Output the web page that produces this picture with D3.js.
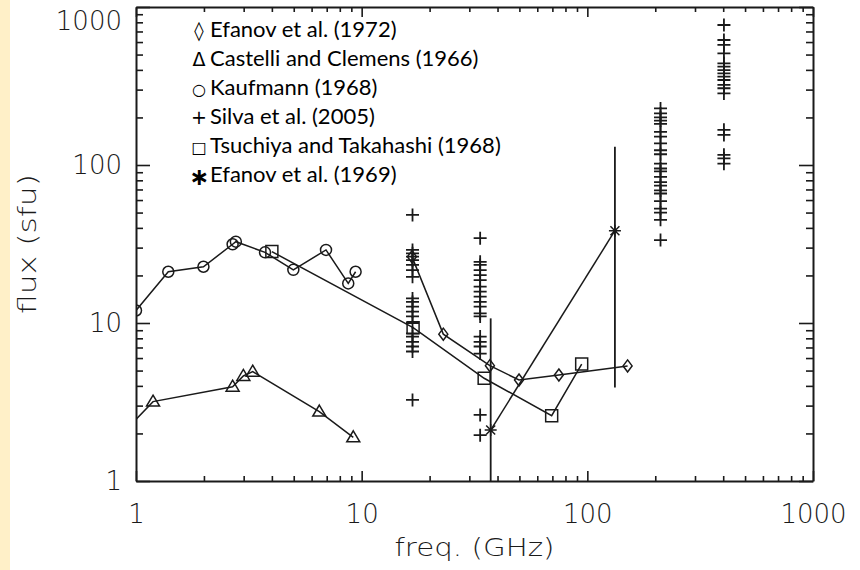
<!DOCTYPE html>
<meta charset="utf-8">
<script src="https://d3js.org/d3.v7.min.js"></script>
<style>
  body { margin: 0; background: #fff; }
</style>
<div id="my_dataviz"></div>
<script>

// ---- data (freq in GHz, flux in sfu) ----
var kaufFreq = [1.0, 1.39, 1.99, 2.68, 2.77, 3.73, 4.98, 6.95, 8.72, 9.4];
var kaufFlux = [12, 21.1, 22.7, 31.5, 32.7, 28.0, 21.7, 29, 17.8, 21.1];

var castFreq = [0.9, 1.19, 2.68, 2.99, 3.29, 6.49, 9.18];
var castFlux = [2.1, 3.18, 3.95, 4.62, 4.92, 2.75, 1.89];

var tsuFreq = [4.0, 16.9, 34.9, 69.5, 94.4];
var tsuFlux = [28.3, 9.34, 4.47, 2.59, 5.5];

var ef72Freq = [16.7, 23, 37, 49.8, 74.8, 150.8];
var ef72Flux = [26.3, 8.5, 5.37, 4.36, 4.69, 5.35];

var ef69Freq = [37.3, 132.5];
var ef69Flux = [2.10, 38.4];
var ef69Low  = [0.5, 3.9];
var ef69High = [10.7, 130.6];

var silvaFreq = [16.8, 33.5, 211, 403];
var silva17  = [48.3, 29, 27.6, 26.3, 25, 23.3, 21.6, 19.6, 14.3, 13.6, 12.7, 11.8, 11, 10, 8.6, 8.2, 7.6, 7.1, 6.6, 3.26];
var silva34  = [34.4, 24.4, 23.3, 21.6, 20.1, 18.7, 17, 15.8, 14.7, 13.6, 12.7, 11.5, 11, 8.2, 7.6, 7.1, 6.4, 2.62, 1.95];
var silva210 = [228, 212, 200, 191, 182, 162, 151, 137, 124, 117, 102, 95, 91, 84, 78, 74, 69, 66, 59, 53, 50, 45, 33.5];
var silva400 = [769, 618, 575, 509, 440, 419, 399, 380, 362, 345, 321, 306, 284, 167, 155, 116, 110, 102];

var legendLabels = [
  ["\u25CA", "Efanov et al. (1972)"],
  ["\u0394", "Castelli and Clemens (1966)"],
  ["\u25CB", "Kaufmann (1968)"],
  ["+", "Silva et al. (2005)"],
  ["\u25A1", "Tsuchiya and Takahashi (1968)"],
  ["\u2217", "Efanov et al. (1969)"]
];

var majorTicks = [1, 10, 100, 1000];

// ---- layout ----
var W = 860, H = 570;
var plot = {left: 136, right: 813, top: 7, bottom: 481};
var ink = "#1a1a1a";
var tickFont = "'DejaVu Sans', sans-serif";

var svg = d3.select("#my_dataviz")
  .append("svg")
    .attr("width", W)
    .attr("height", H);

// beige strip on the left edge
svg.append("rect")
  .attr("x", 0).attr("y", 0)
  .attr("width", 10).attr("height", H)
  .attr("fill", "#fff0c8");

var x = d3.scaleLog().domain([1, 1000]).range([plot.left, plot.right]);
var y = d3.scaleLog().domain([1, 1000]).range([plot.bottom, plot.top]);

// all ticks 1..9 per decade
var allTicks = [];
[1, 10, 100].forEach(function(d) {
  for (var k = 1; k < 10; k++) allTicks.push(d * k);
});
allTicks.push(1000);
function isMajor(v) { return majorTicks.indexOf(v) >= 0; }
function fmt(v) { return isMajor(v) ? String(v) : ""; }

var xLen = 10, yLen = 14;

function styleAxis(g, len, sign, attr) {
  g.select(".domain").attr("stroke", ink).attr("stroke-width", 2);
  g.selectAll(".tick line")
    .attr("stroke", ink)
    .attr("stroke-width", 1.6)
    .attr(attr, function(d) { return sign * (isMajor(d) ? len : len / 2); });
  g.selectAll(".tick text")
    .attr("fill", ink)
    .style("font-family", tickFont)
    .style("font-weight", 200)
    .style("font-size", "26px");
}

// bottom
svg.append("g")
  .attr("transform", "translate(0," + plot.bottom + ")")
  .call(d3.axisBottom(x).tickValues(allTicks).tickFormat(fmt).tickSizeInner(-xLen).tickSizeOuter(0).tickPadding(24))
  .call(styleAxis, xLen, -1, "y2");
// top
svg.append("g")
  .attr("transform", "translate(0," + plot.top + ")")
  .call(d3.axisTop(x).tickValues(allTicks).tickFormat("").tickSizeInner(-xLen).tickSizeOuter(0))
  .call(styleAxis, xLen, 1, "y2");
// left
var yAxisG = svg.append("g")
  .attr("transform", "translate(" + plot.left + ",0)")
  .call(d3.axisLeft(y).tickValues(allTicks).tickFormat(fmt).tickSizeInner(-yLen).tickSizeOuter(0).tickPadding(14))
  .call(styleAxis, yLen, 1, "x2");
// the top label sits a little lower so it stays on the page
yAxisG.selectAll(".tick text")
  .filter(function(d) { return d === 1000; })
  .attr("dy", "0.85em");
// right
svg.append("g")
  .attr("transform", "translate(" + plot.right + ",0)")
  .call(d3.axisRight(y).tickValues(allTicks).tickFormat("").tickSizeInner(-yLen).tickSizeOuter(0))
  .call(styleAxis, yLen, -1, "x2");

// axis titles
svg.append("text")
  .attr("x", (plot.left + plot.right) / 2)
  .attr("y", 556)
  .attr("text-anchor", "middle")
  .attr("textLength", 160)
  .attr("lengthAdjust", "spacingAndGlyphs")
  .style("font-family", tickFont).style("font-weight", 200).style("font-size", "25px")
  .attr("fill", ink)
  .text("freq. (GHz)");

svg.append("text")
  .attr("transform", "translate(36," + ((plot.top + plot.bottom) / 2) + ")rotate(-90)")
  .attr("text-anchor", "middle")
  .attr("textLength", 140)
  .attr("lengthAdjust", "spacingAndGlyphs")
  .style("font-family", tickFont).style("font-weight", 200).style("font-size", "25px")
  .attr("fill", ink)
  .text("flux (sfu)");

// clip to the plot box
svg.append("clipPath").attr("id", "plotclip")
  .append("rect")
    .attr("x", plot.left).attr("y", plot.top)
    .attr("width", plot.right - plot.left).attr("height", plot.bottom - plot.top);

var area = svg.append("g").attr("clip-path", "url(#plotclip)");

function zip(a, b) { return a.map(function(v, i) { return [v, b[i]]; }); }

var line = d3.line()
  .x(function(d) { return x(d[0]); })
  .y(function(d) { return y(d[1]); });

// marker shapes (centered at 0,0)
var shapes = {
  circle: "M5.5,0A5.5,5.5 0 1,1 -5.5,0A5.5,5.5 0 1,1 5.5,0Z",
  triangle: "M0,-6.5L6.5,4.5L-6.5,4.5Z",
  square: "M-6,-6L6,-6L6,6L-6,6Z",
  diamond: "M0,-6L4.5,0L0,6L-4.5,0Z",
  plus: "M-6.5,0L6.5,0M0,-6.5L0,6.5",
  star: "M-6,0L6,0M0,-6L0,6M-4.5,-4.5L4.5,4.5M-4.5,4.5L4.5,-4.5"
};

function drawSeries(pts, shape, connect) {
  if (connect) {
    area.append("path")
      .datum(pts)
      .attr("d", line)
      .attr("fill", "none")
      .attr("stroke", ink)
      .attr("stroke-width", 1.5);
  }
  area.selectAll(null)
    .data(pts)
    .enter()
    .append("path")
      .attr("transform", function(d) { return "translate(" + x(d[0]) + "," + y(d[1]) + ")"; })
      .attr("d", shapes[shape])
      .attr("fill", "none")
      .attr("stroke", ink)
      .attr("stroke-width", shape === "plus" ? 1.8 : 1.5);
}

drawSeries(zip(kaufFreq, kaufFlux), "circle", true);
drawSeries(zip(castFreq, castFlux), "triangle", true);
drawSeries(zip(tsuFreq, tsuFlux), "square", true);
drawSeries(zip(ef72Freq, ef72Flux), "diamond", true);

// Efanov 1969 error bars
area.selectAll(null)
  .data(ef69Freq)
  .enter()
  .append("line")
    .attr("x1", function(d) { return x(d); })
    .attr("x2", function(d) { return x(d); })
    .attr("y1", function(d, i) { return y(ef69Low[i]); })
    .attr("y2", function(d, i) { return y(ef69High[i]); })
    .attr("stroke", ink)
    .attr("stroke-width", 1.8);
drawSeries(zip(ef69Freq, ef69Flux), "star", true);

// Silva et al. columns
[silva17, silva34, silva210, silva400].forEach(function(col, i) {
  drawSeries(col.map(function(v) { return [silvaFreq[i], v]; }), "plus", false);
});

// legend
var leg = svg.append("g");
legendLabels.forEach(function(d, i) {
  var yy = 37 + i * 29;
  var isStar = d[0] === "\u2217";
  leg.append("text")
    .attr("x", 199).attr("y", yy)
    .attr("text-anchor", "middle")
    .style("font-family", "'DejaVu Sans', sans-serif")
    .style("font-weight", isStar ? "bold" : "normal")
    .style("font-size", isStar ? "24px" : (d[0] === "\u25A1" || d[0] === "\u25CB" ? "16px" : "19px"))
    .attr("dy", isStar ? "0.12em" : 0)
    .attr("fill", "#000")
    .text(d[0]);
  leg.append("text")
    .attr("x", 210).attr("y", yy)
    .style("font-family", "Lato, 'Open Sans', sans-serif")
    .style("font-size", "22px")
    .attr("fill", "#000")
    .text(d[1]);
});

</script>
